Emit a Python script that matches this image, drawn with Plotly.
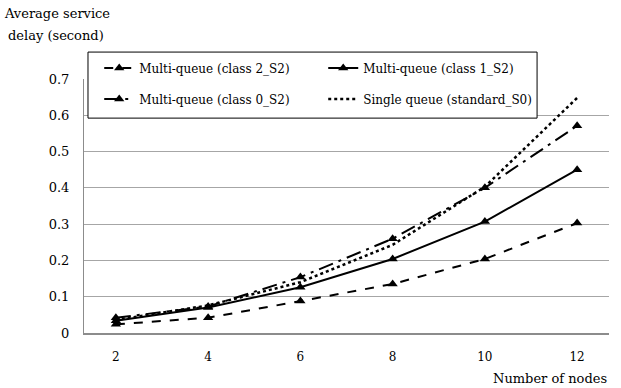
import plotly.graph_objects as go

nodes = ["2", "4", "6", "8", "10", "12"]
class2 = [0.024, 0.042, 0.088, 0.135, 0.204, 0.303]
class1 = [0.034, 0.070, 0.126, 0.204, 0.307, 0.450]
class0 = [0.042, 0.073, 0.154, 0.260, 0.400, 0.571]
single = [0.036, 0.076, 0.140, 0.243, 0.403, 0.648]
y_ticks = [0, 0.1, 0.2, 0.3, 0.4, 0.5, 0.6, 0.7]
y_tick_text = ["0", "0.1", "0.2", "0.3", "0.4", "0.5", "0.6", "0.7"]

FONT = "DejaVu Serif, Liberation Serif, serif"
fig = go.Figure()
mk = dict(symbol="triangle-up", size=9, color="black")
fig.add_trace(go.Scatter(x=nodes, y=class2, name="Multi-queue (class 2_S2)", mode="lines+markers",
                         line=dict(color="black", width=2, dash="dash"), marker=mk, legend="legend"))
fig.add_trace(go.Scatter(x=nodes, y=class1, name="Multi-queue (class 1_S2)", mode="lines+markers",
                         line=dict(color="black", width=2, dash="solid"), marker=mk, legend="legend"))
fig.add_trace(go.Scatter(x=nodes, y=class0, name="Multi-queue (class 0_S2)", mode="lines+markers",
                         line=dict(color="black", width=2, dash="longdashdot"), marker=mk, legend="legend2"))
fig.add_trace(go.Scatter(x=nodes, y=single, name="Single queue (standard_S0)", mode="lines",
                         line=dict(color="black", width=2.5, dash="dot"), legend="legend2"))

leg_common = dict(orientation="h", xanchor="left", yanchor="middle",
                  bgcolor="rgba(0,0,0,0)", borderwidth=0,
                  entrywidth=179, entrywidthmode="pixels",
                  font=dict(family=FONT, size=12))
fig.update_layout(
    width=621, height=388,
    margin=dict(l=84, r=12, t=79, b=55),
    paper_bgcolor="white", plot_bgcolor="white",
    font=dict(family=FONT, size=12, color="black"),
    legend=dict(x=0.029, y=1.043, **leg_common),
    legend2=dict(x=0.029, y=0.921, **leg_common),
    showlegend=True,
)
fig.add_shape(type="rect", xref="paper", yref="paper", x0=0.0076, x1=0.863, y0=0.846, y1=1.106,
              fillcolor="white", line=dict(color="black", width=1), layer="above")
fig.update_xaxes(type="category", showgrid=False, showline=True, linecolor="#8c8c8c", linewidth=2,
                 ticks="", tickfont=dict(family=FONT, size=12), ticklabelstandoff=12)
fig.update_yaxes(range=[0, 0.7], tickvals=y_ticks, ticktext=y_tick_text, showgrid=True,
                 gridcolor="#a6a6a6", gridwidth=1, showline=True, linecolor="#8c8c8c", linewidth=1,
                 zeroline=False, ticks="", tickfont=dict(family=FONT, size=13), ticklabelstandoff=11)
fig.add_annotation(text="Average service", xref="paper", yref="paper",
                   x=-0.051, y=1.257, xanchor="center", yanchor="middle", showarrow=False,
                   font=dict(family=FONT, size=13))
fig.add_annotation(text="delay (second)", xref="paper", yref="paper",
                   x=-0.053, y=1.170, xanchor="center", yanchor="middle", showarrow=False,
                   font=dict(family=FONT, size=13))
fig.add_annotation(text="Number of nodes", xref="paper", yref="paper",
                   x=1.0, y=-0.143, xanchor="right", yanchor="top", showarrow=False,
                   font=dict(family=FONT, size=13))
fig.write_html("out.html")
